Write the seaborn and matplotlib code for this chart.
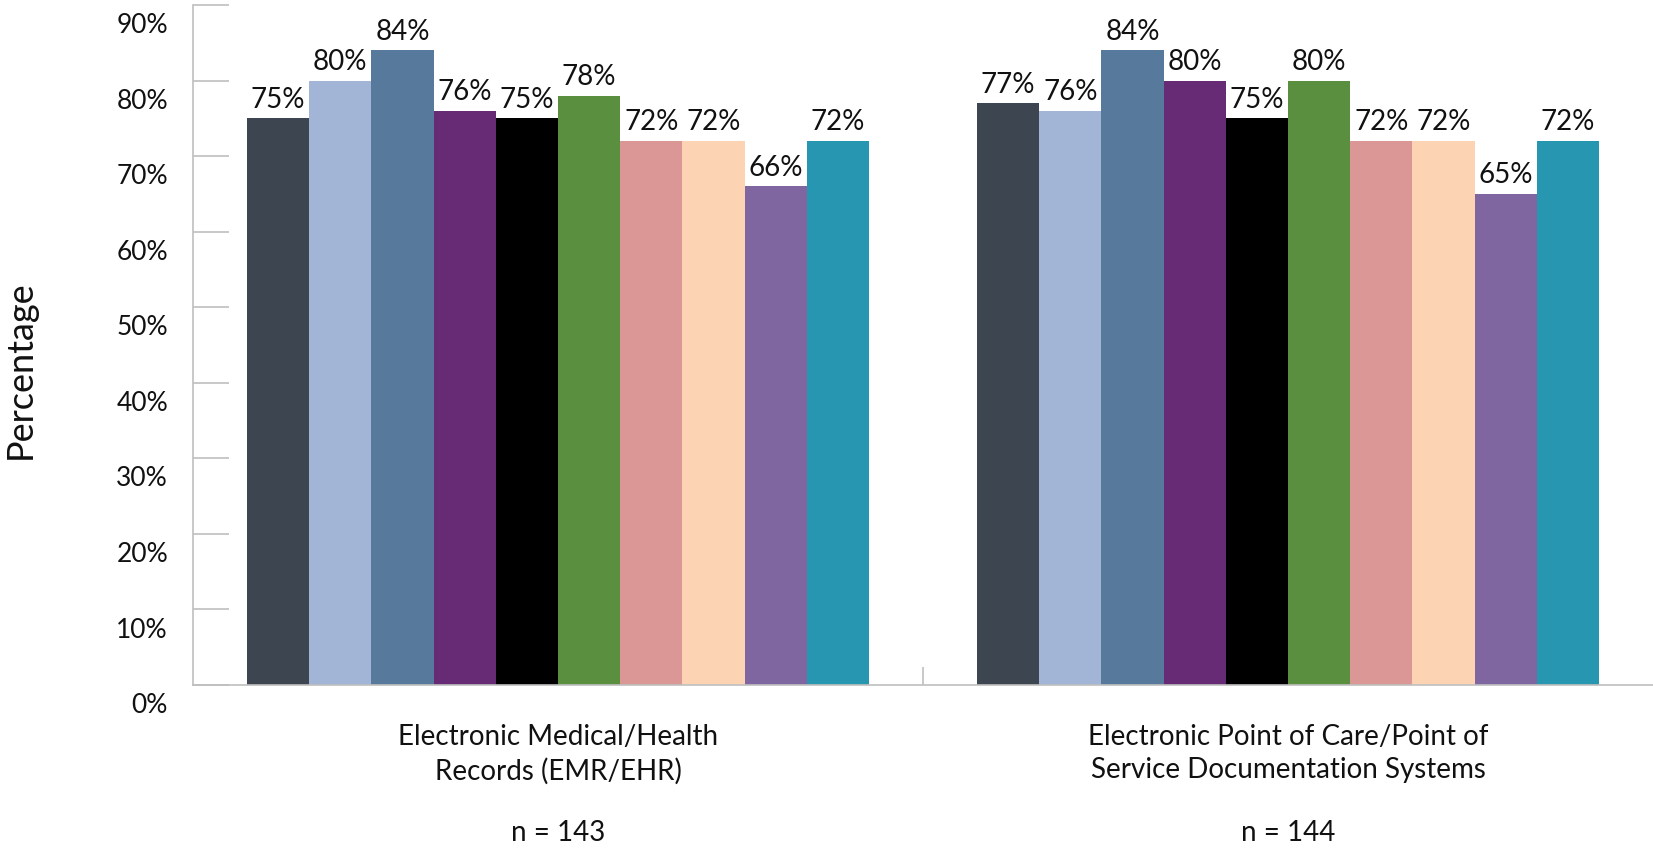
"""
Gráfico de barras agrupadas: uso de sistemas eletrônicos por tipo.
"""

# ================== IMPORTS ================== #
import pandas as pd
import matplotlib.pyplot as plt
import seaborn as sns
from matplotlib.ticker import FuncFormatter, FixedLocator
import matplotlib.transforms as mtransforms

# ================== DADOS ================== #
categorias = [
    "Electronic Medical/Health\nRecords (EMR/EHR)",
    "Electronic Point of Care/Point of\nService Documentation Systems",
]
amostras = ["n = 143", "n = 144"]
series = [f"Série {i}" for i in range(1, 11)]
valores_emr = [75, 80, 84, 76, 75, 78, 72, 72, 66, 72]
valores_poc = [77, 76, 84, 80, 75, 80, 72, 72, 65, 72]
cores = ["#3D4550", "#A2B5D6", "#57799C", "#672A74", "#000000",
         "#5A8F3F", "#DB9696", "#FCD4B4", "#8066A0", "#2796B1"]

df = pd.DataFrame({
    "categoria": [categorias[0]] * 10 + [categorias[1]] * 10,
    "serie": series * 2,
    "valor": valores_emr + valores_poc,
})

# ================== ESTILO ================== #
sns.set_style("white")
plt.rcParams["font.family"] = ["Lato", "DejaVu Sans"]
cinza = "#BFBFBF"
texto = "#111111"

# ================== GRÁFICO ================== #
fig = plt.figure(figsize=(16.53, 8.51), dpi=100)
ax = fig.add_axes([193 / 1653, 1 - 685 / 851, 1 - 193 / 1653, 680 / 851])

sns.barplot(data=df, x="categoria", y="valor", hue="serie", palette=cores,
            width=0.852, gap=0, legend=False, ax=ax, saturation=1,
            linewidth=0, edgecolor="none")

for cont in ax.containers:
    ax.bar_label(cont, labels=[f"{v:.0f}%" for v in cont.datavalues],
                 padding=4, fontsize=20, color=texto)

ax.set_xlim(-0.5, 1.5)
ax.set_ylim(0, 90)
ax.yaxis.set_major_locator(FixedLocator(range(0, 91, 10)))
ax.yaxis.set_major_formatter(FuncFormatter(lambda v, p: f"{v:.0f}%"))

# eixos e ticks
for lado in ["top", "right"]:
    ax.spines[lado].set_visible(False)
for lado in ["left", "bottom"]:
    ax.spines[lado].set_color(cinza)
    ax.spines[lado].set_linewidth(1.2)

ax.tick_params(axis="y", direction="in", length=26, width=1.2, color=cinza,
               pad=18, labelsize=19, labelcolor=texto, left=True)
ax.tick_params(axis="x", which="major", length=0, pad=28, labelsize=20,
               labelcolor=texto)
ax.xaxis.set_minor_locator(FixedLocator([0.5]))
ax.tick_params(axis="x", which="minor", direction="in", length=13,
               width=1.2, color=cinza, bottom=True)
for lbl in ax.get_xticklabels():
    lbl.set_linespacing(1.35)

# rótulos do eixo y um pouco abaixo das marcas, como no original
desloca = mtransforms.ScaledTranslation(0, -13 / 72, fig.dpi_scale_trans)
for lbl in ax.get_yticklabels():
    lbl.set_transform(lbl.get_transform() + desloca)

ax.set_xlabel("")
ax.set_ylabel("Percentage", fontsize=26, color=texto, va="center")
ax.yaxis.set_label_coords(-0.118, 0.463)

# tamanhos de amostra abaixo dos rótulos
trans = mtransforms.blended_transform_factory(ax.transData, fig.transFigure)
for i, n in enumerate(amostras):
    ax.text(i, 1 - 833 / 851, n, ha="center", va="center", fontsize=20,
            color=texto, transform=trans)

fig.savefig("out.png", dpi=100)
